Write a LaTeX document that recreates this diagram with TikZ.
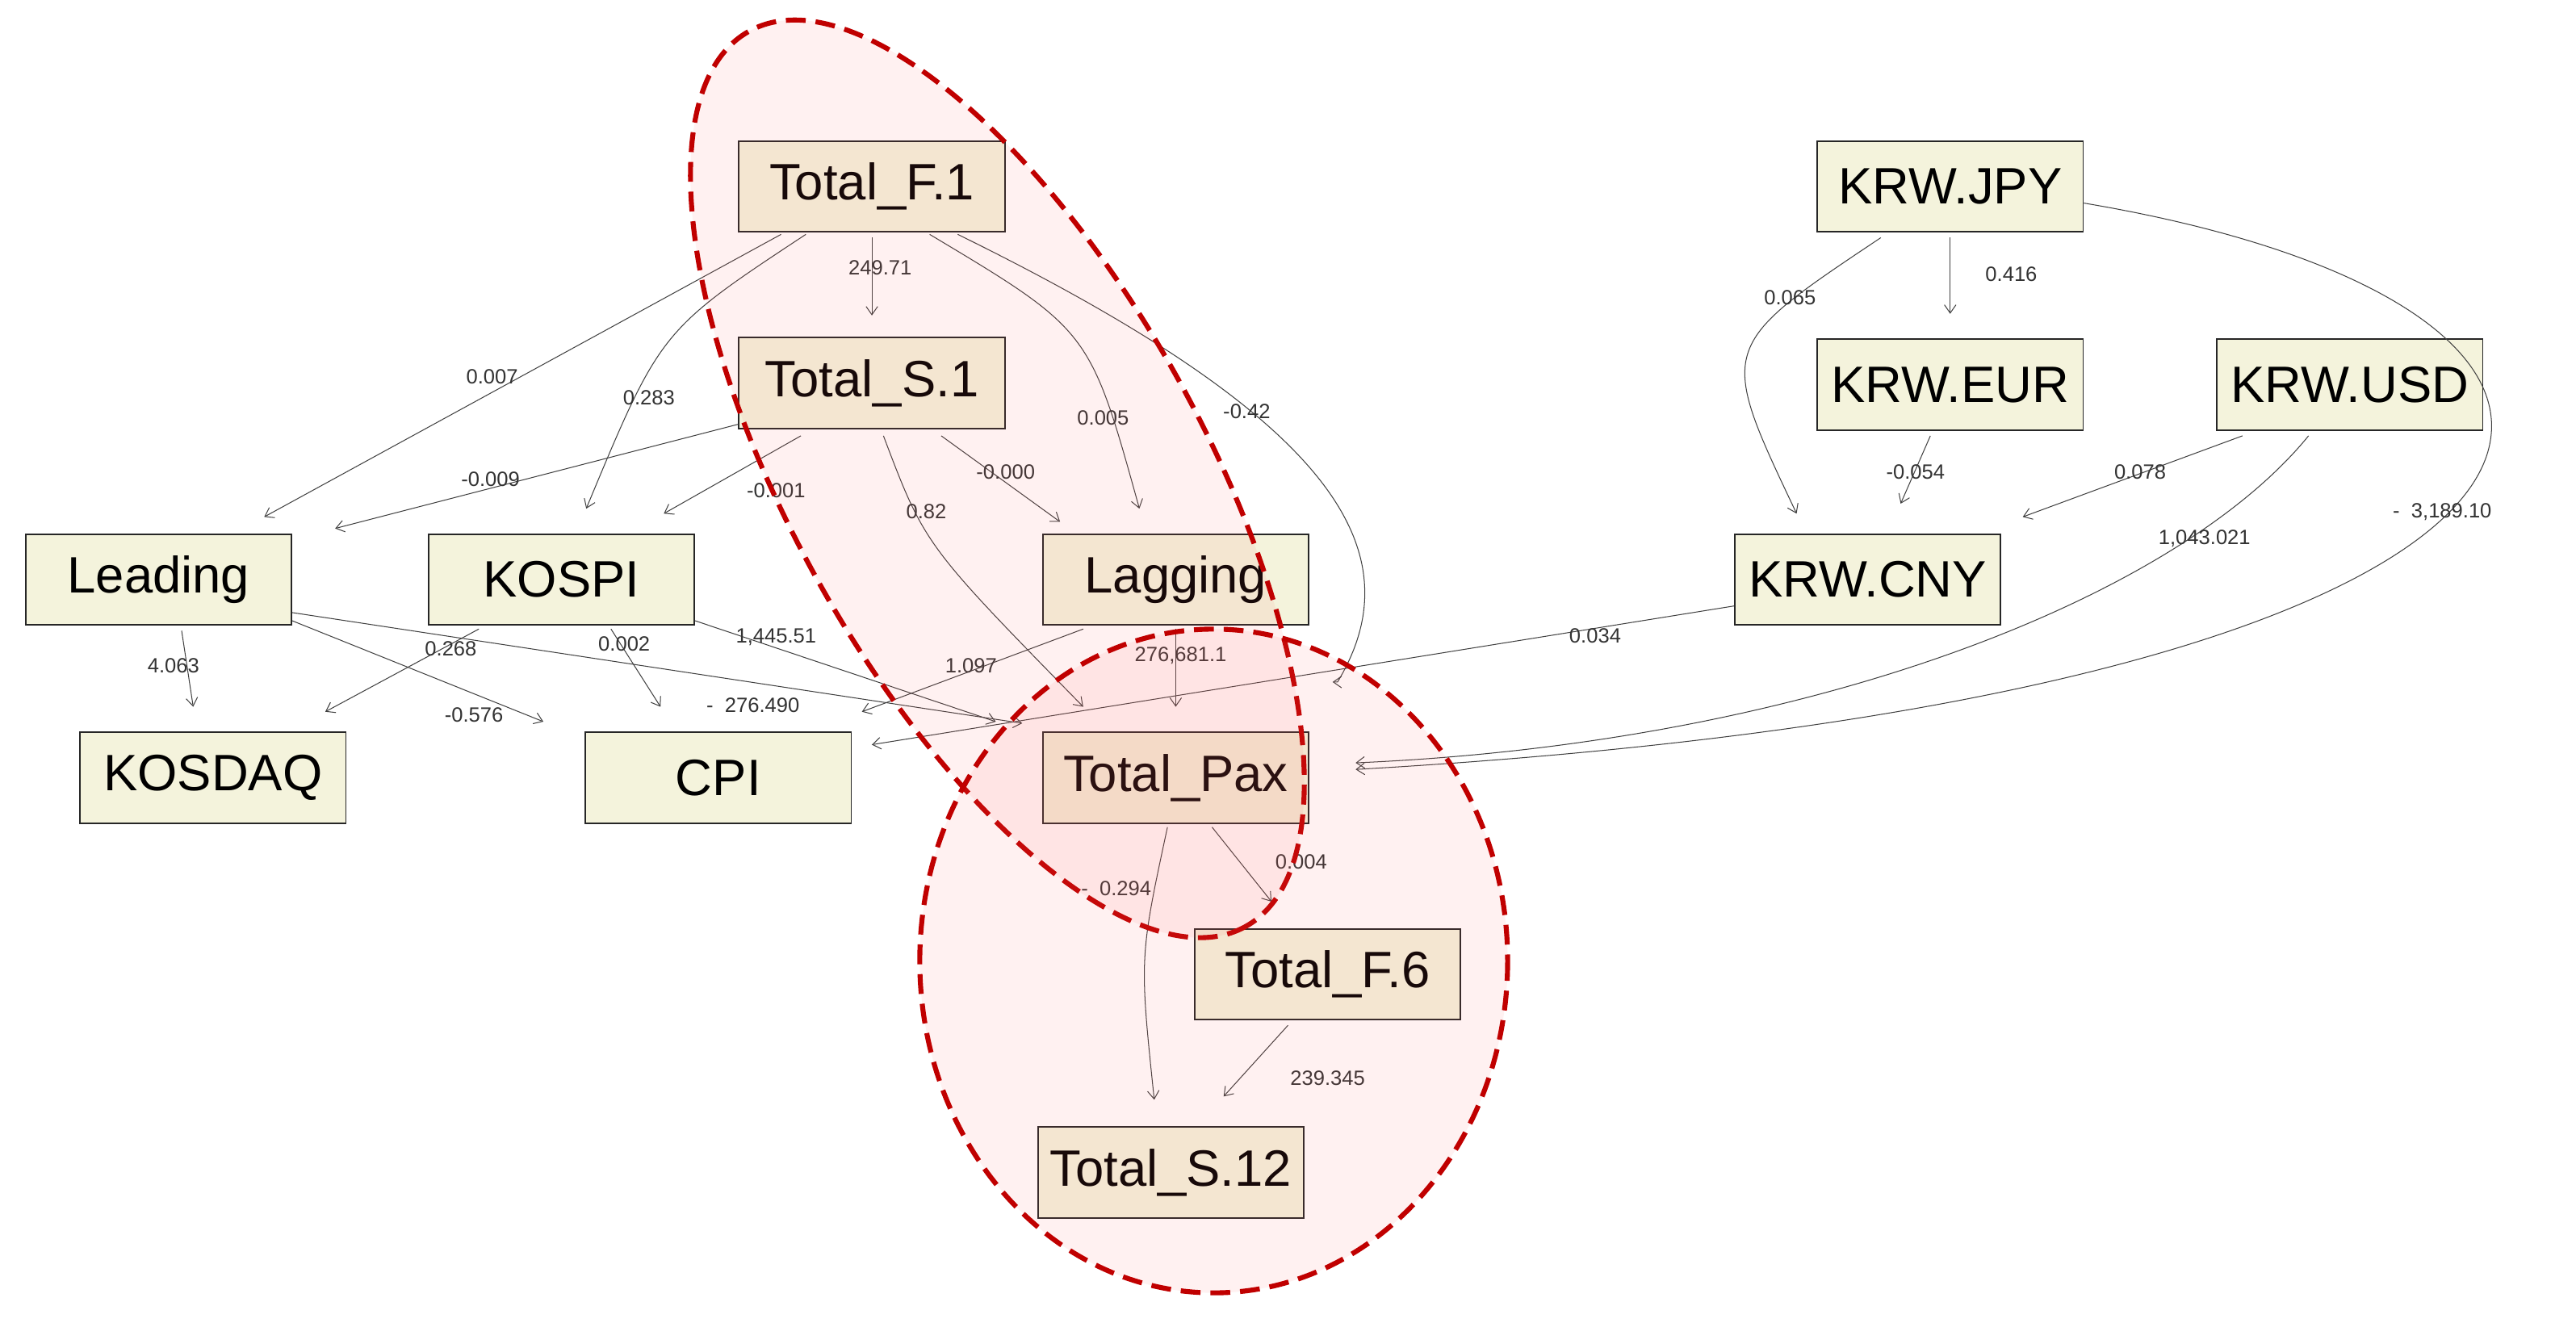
\documentclass[tikz,border=0pt]{standalone}
\usepackage{fontspec}
\setmainfont{Liberation Sans}
\usetikzlibrary{calc,arrows.meta}
\definecolor{boxfill}{HTML}{F4F3DC}
\definecolor{ellred}{HTML}{C00000}
\begin{document}
\begin{tikzpicture}[x=1pt,y=-1pt,
  vbox/.style={draw=black!85,line width=0.9pt,fill=boxfill,minimum width=161pt,minimum height=55pt,inner sep=0pt,font=\fontsize{31}{33}\selectfont},
  lbl/.style={font=\fontsize{12.5}{13}\selectfont,text=black!80,inner sep=1pt},
  edge/.style={draw=black!75,line width=0.5pt,-{Straight Barb[length=5pt,width=7pt]}},
  ell/.style={draw=ellred,line width=3pt,dash pattern=on 12pt off 6pt,fill=red!60,fill opacity=0.09}]
\useasboundingbox (0,0) rectangle (1560,801);
\fill[white] (0,0) rectangle (1560,801);
\node[vbox] (F1) at (528,113) {Total\_F.1};
\node[vbox] (S1) at (528,232) {Total\_S.1};
\node[vbox] (LEAD) at (96,351) {Leading};
\node[vbox] (KOSPI) at (340,351) {KOSPI};
\node[vbox] (LAG) at (712,351) {Lagging};
\node[vbox] (KOSDAQ) at (129,471) {KOSDAQ};
\node[vbox] (CPI) at (435,471) {CPI};
\node[vbox] (PAX) at (712,471) {Total\_Pax};
\node[vbox] (F6) at (804,590) {Total\_F.6};
\node[vbox] (S12) at (709,710) {Total\_S.12};
\node[vbox] (JPY) at (1181,113) {KRW.JPY};
\node[vbox] (EUR) at (1181,233) {KRW.EUR};
\node[vbox] (USD) at (1423,233) {KRW.USD};
\node[vbox] (CNY) at (1131,351) {KRW.CNY};
% edges
\draw[edge] ($(F1.south)+(0,3)$) -- ($(S1.north)+(0,-13)$);
\draw[edge] ($(F1.south)+(-55,1)$) -- ($(LEAD.north)+(64,-10)$);
\draw[edge] ($(F1.south)+(-40,1)$) .. controls (400,200) .. ($(KOSPI.north)+(15,-15)$);
\draw[edge] ($(F1.south)+(35,1)$) .. controls (660,200) .. ($(LAG.north)+(-22,-15)$);
\draw[edge] ($(F1.south)+(52,1)$) .. controls (800,250) and (860,330) .. ($(PAX.north)+(98,-30)$) -- ($(PAX.north)+(95,-30)$);
\draw[edge] ($(S1.south west)+(0,-3)$) -- ($(LEAD.north east)+(26,-3)$);
\draw[edge] ($(S1.south)+(-43,4)$) -- ($(KOSPI.north)+(62,-12)$);
\draw[edge] ($(S1.south)+(7,4)$) .. controls (560,330) .. ($(PAX.north)+(-56,-15)$);
\draw[edge] ($(S1.south)+(42,4)$) -- ($(LAG.north)+(-70,-7)$);
\draw[edge] ($(LEAD.south)+(14,3)$) -- ($(KOSDAQ.north)+(-12,-15)$);
\draw[edge] ($(LEAD.south east)+(0,-3)$) -- ($(CPI.north west)+(-25,-6)$);
\draw[edge] ($(LEAD.east)+(0,20)$) -- ($(PAX.north west)+(-12,-5)$);
\draw[edge] ($(KOSPI.south)+(-50,2)$) -- ($(KOSDAQ.north)+(68,-12)$);
\draw[edge] ($(KOSPI.south)+(30,2)$) -- ($(CPI.north)+(-35,-15)$);
\draw[edge] ($(KOSPI.south east)+(0,-3)$) -- ($(PAX.north west)+(-28,-6)$);
\draw[edge] ($(LAG.south)+(-56,2)$) -- ($(CPI.north east)+(6,-12)$);
\draw[edge] ($(LAG.south)+(0,2)$) -- ($(PAX.north)+(0,-15)$);
\draw[edge] ($(CNY.west)+(0,16)$) -- ($(CPI.east)+(12,-20)$);
\draw[edge] ($(JPY.south)+(0,3)$) -- ($(EUR.north)+(0,-15)$);
\draw[edge] ($(JPY.south)+(-42,3)$) .. controls (1040,210) .. ($(CNY.north)+(-43,-12)$);
\draw[edge] ($(EUR.south)+(-12,3)$) -- ($(CNY.north)+(20,-18)$);
\draw[edge] ($(USD.south)+(-65,3)$) -- ($(CNY.north east)+(13,-10)$);
\draw[edge] ($(USD.south)+(-25,3)$) .. controls (1320,360) and (1100,450) .. ($(PAX.east)+(28,-9)$);
\draw[edge] ($(JPY.east)+(0,10)$) .. controls (1660,190) and (1620,420) .. ($(PAX.east)+(28,-5)$);
\draw[edge] ($(PAX.south)+(22,2)$) -- ($(F6.north)+(-34,-16)$);
\draw[edge] ($(PAX.south)+(-5,2)$) .. controls (690,580) .. ($(S12.north)+(-10,-16)$);
\draw[edge] ($(F6.south)+(-24,3)$) -- ($(S12.north)+(32,-18)$);
% labels
\node[lbl] at (533,162) {249.71};
\node[lbl] at (298,228) {0.007};
\node[lbl] at (393,241) {0.283};
\node[lbl] at (668,253) {0.005};
\node[lbl] at (755,249) {-0.42};
\node[lbl] at (297,290) {-0.009};
\node[lbl] at (470,297) {-0.001};
\node[lbl] at (609,286) {-0.000};
\node[lbl] at (561,310) {0.82};
\node[lbl] at (105,403) {4.063};
\node[lbl] at (273,393) {0.268};
\node[lbl] at (378,390) {0.002};
\node[lbl] at (470,386) {1,445.51};
\node[lbl] at (287,433) {-0.576};
\node[lbl] at (456,427) {-\ \ 276.490};
\node[lbl] at (588,403) {1.097};
\node[lbl] at (715,397) {276,681.1};
\node[lbl] at (966,385) {0.034};
\node[lbl] at (1218,166) {0.416};
\node[lbl] at (1084,180) {0.065};
\node[lbl] at (1160,286) {-0.054};
\node[lbl] at (1296,286) {0.078};
\node[lbl] at (1335,326) {1,043.021};
\node[lbl] at (1479,310) {-\ \ 3,189.10};
\node[lbl] at (788,522) {0.004};
\node[lbl] at (676,538) {-\ \ 0.294};
\node[lbl] at (804,653) {239.345};
% ellipses
\path[ell] (604,290) ellipse[x radius=310,y radius=125,rotate=-61];
\path[ell] (735,582) ellipse[x radius=178,y radius=201];
\end{tikzpicture}
\end{document}
